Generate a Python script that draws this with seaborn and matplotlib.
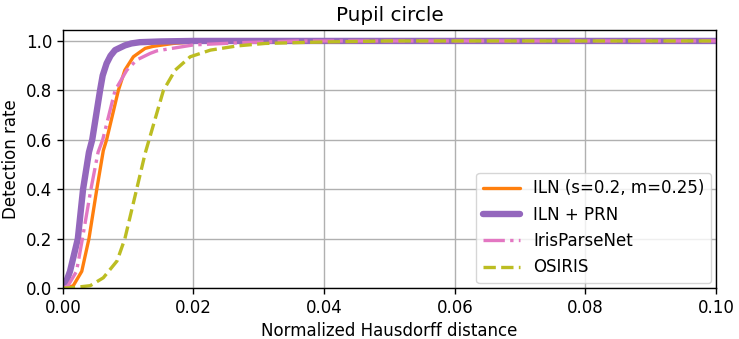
import numpy as np
import pandas as pd
import seaborn as sns
import matplotlib
matplotlib.use("Agg")
import matplotlib.pyplot as plt

# values (normalized Hausdorff distance -> detection rate)
iln_x = [0.0, 0.0008, 0.0016, 0.0029, 0.0040, 0.0052, 0.0062, 0.0067, 0.0085, 0.0095,
         0.0108, 0.0118, 0.0126, 0.0138, 0.0169, 0.021, 0.1]
iln_y = [0.0, 0.002, 0.01, 0.068, 0.2, 0.4, 0.557, 0.6, 0.8, 0.882,
         0.936, 0.955, 0.97, 0.978, 0.99, 0.998, 1.0]

prn_x = [0.0, 0.0003, 0.0011, 0.0023, 0.0031, 0.0040, 0.0045, 0.0057, 0.0061, 0.0067,
         0.0073, 0.0080, 0.0095, 0.0105, 0.0118, 0.015, 0.02, 0.1]
prn_y = [0.0, 0.01, 0.068, 0.2, 0.4, 0.55, 0.6, 0.8, 0.86, 0.909,
         0.94, 0.963, 0.982, 0.99, 0.995, 0.998, 1.0, 1.0]

ipn_x = [0.0, 0.0008, 0.0021, 0.0030, 0.0043, 0.0054, 0.0061, 0.0080, 0.0098, 0.0113,
         0.0134, 0.0144, 0.02, 0.0272, 0.036, 0.1]
ipn_y = [0.0, 0.01, 0.068, 0.2, 0.4, 0.55, 0.6, 0.8, 0.882, 0.923,
         0.95, 0.96, 0.984, 0.993, 1.0, 1.0]

osi_x = [0.0, 0.0015, 0.0042, 0.0062, 0.0083, 0.0095, 0.0113, 0.0126, 0.0154, 0.0172,
         0.0195, 0.0226, 0.0267, 0.031, 0.04, 0.05, 0.1]
osi_y = [0.0, 0.002, 0.01, 0.042, 0.11, 0.2, 0.4, 0.545, 0.8, 0.882,
         0.936, 0.963, 0.98, 0.99, 0.996, 1.0, 1.0]

labels = ["ILN (s=0.2, m=0.25)", "ILN + PRN", "IrisParseNet", "OSIRIS"]

sns.set_style("ticks")
plt.rcParams['font.family'] = ['DejaVu Sans']
plt.rcParams['text.color'] = 'black'
plt.rcParams['axes.labelcolor'] = 'black'
plt.rcParams['xtick.color'] = 'black'
plt.rcParams['ytick.color'] = 'black'

fig, ax = plt.subplots(figsize=(7.39, 3.39), dpi=100)

sns.lineplot(x=iln_x, y=iln_y, ax=ax, color="tab:orange", linewidth=2.4, label=labels[0])
sns.lineplot(x=prn_x, y=prn_y, ax=ax, color="tab:purple", linewidth=4.6, label=labels[1])
sns.lineplot(x=ipn_x, y=ipn_y, ax=ax, color="tab:pink", linewidth=2.4, linestyle="-.", label=labels[2])
sns.lineplot(x=osi_x, y=osi_y, ax=ax, color="tab:olive", linewidth=2.4, linestyle="--", label=labels[3])

ax.set_xlim(0, 0.1)
ax.set_ylim(0, 1.045)
ax.set_yticks([0, 0.2, 0.4, 0.6, 0.8, 1.0])
ax.set_xticks([0, 0.02, 0.04, 0.06, 0.08, 0.1])
ax.set_xticklabels(["0.00", "0.02", "0.04", "0.06", "0.08", "0.10"])
ax.tick_params(labelsize=12, length=4.2, width=1)
ax.grid(True, color="#b0b0b0", linewidth=1)
ax.set_xlabel("Normalized Hausdorff distance", fontsize=12, labelpad=4)
ax.set_ylabel("Detection rate", fontsize=12)
ax.set_title("Pupil circle", fontsize=14.4, pad=6)
ax.legend(loc="lower right", fontsize=12, borderaxespad=0.3, handlelength=2.2)
for s in ax.spines.values():
    s.set_color("black")
    s.set_linewidth(1)

fig.subplots_adjust(left=0.085, right=0.969, top=0.912, bottom=0.15)
plt.savefig("out.png", dpi=100)
